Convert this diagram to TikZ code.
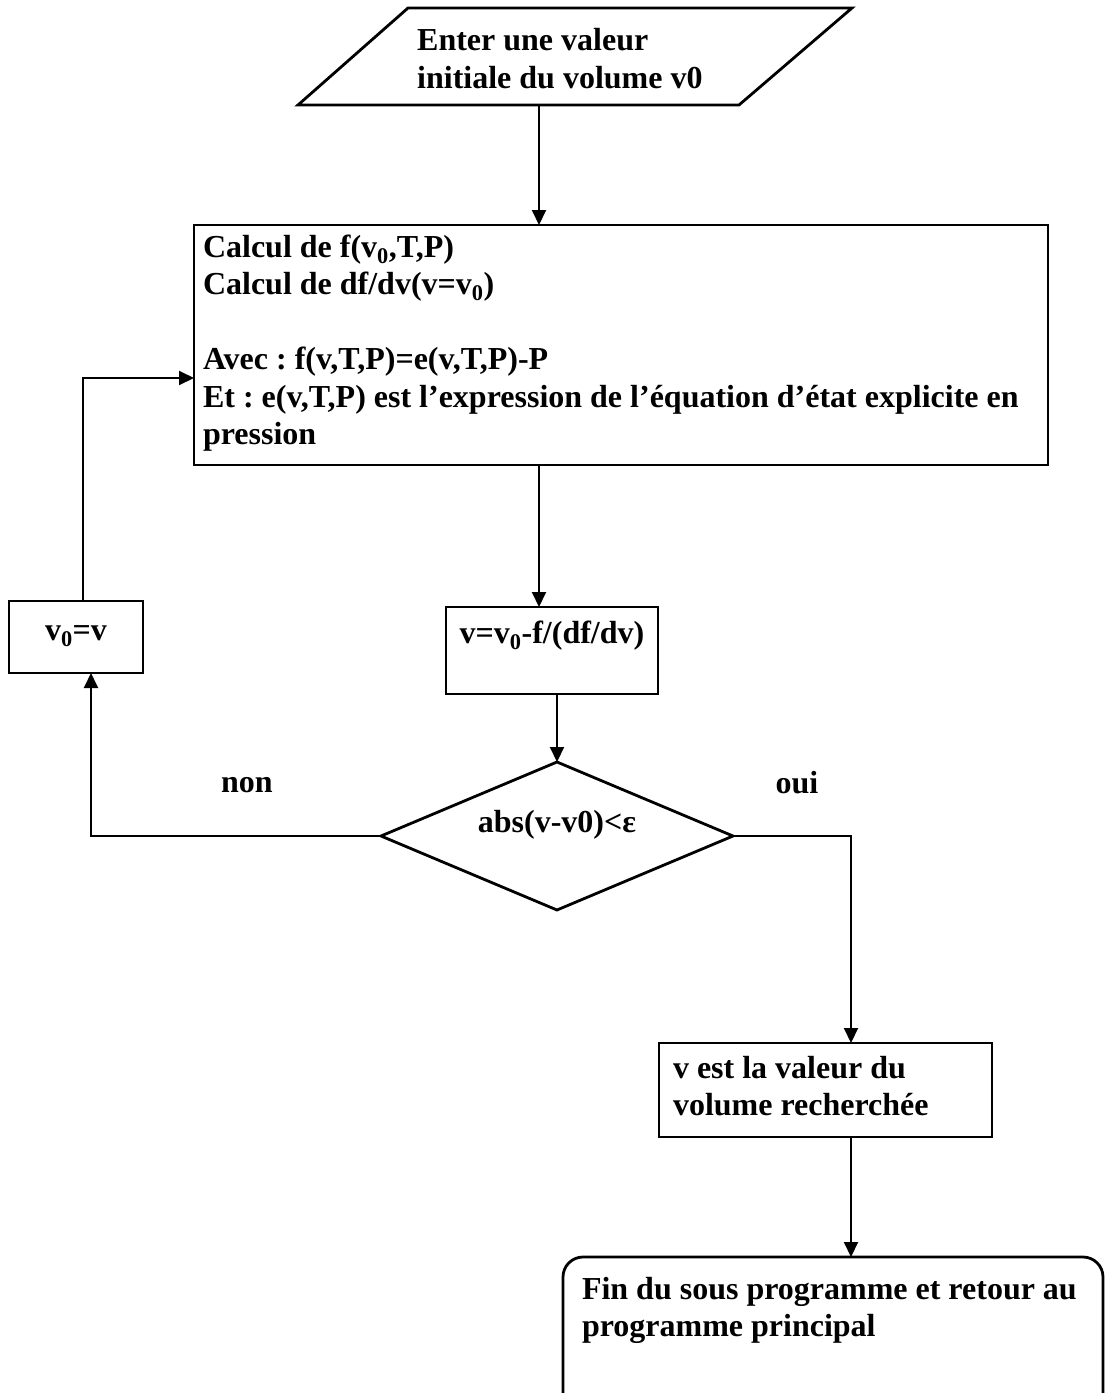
\documentclass[tikz,border=0pt]{standalone}
\usepackage{fontspec}
\setmainfont{Liberation Serif}
\usetikzlibrary{arrows.meta}
\usetikzlibrary{shapes.geometric}
\frenchspacing

\begin{document}
\begin{tikzpicture}[x=1pt,y=-1pt,
  box/.style={draw,rectangle,line width=2.8pt,inner ysep=0pt,outer sep=0pt,font=\bfseries\fontsize{32}{37.5}\selectfont},
  lbl/.style={inner sep=0pt,font=\bfseries\fontsize{32}{37.5}\selectfont},
  flow/.style={line width=2pt,-{Triangle[length=\l, width=\w]}}]
\def\l{15pt}
\def\w{14pt}
\useasboundingbox (0,0) rectangle (1104,1393);
%\draw[help lines] (0,0) grid[step=100] (1104,1393);
\draw[line width=2.8pt] (298,105) -- (408,8) -- (852,8) -- (739,105) -- cycle;
\node[lbl, font=\bfseries\fontsize{32}{38}\selectfont, text width=330pt, align=flush left, anchor=base west] (input) at (417,50) {Enter une valeur\\initiale du volume v0};
\node[box, text width=836pt, inner xsep=9pt, align=flush left, text height=32pt, text depth=208pt, anchor=base west] (calc) at (194,257) {Calcul de f(v\textsubscript{0},T,P)\\Calcul de df/dv(v=v\textsubscript{0})\\[37.5pt]Avec : f(v,T,P)=e(v,T,P)-P\\\mbox{Et : e(v,T,P) est l’expression de l’équation d’état explicite en}\\pression};
\node[box, minimum width=134pt, text height=39pt, text depth=33pt, anchor=base] (upd) at (76,640) {v\textsubscript{0}=v};
\node[box, minimum width=212pt, text height=36pt, text depth=51pt, anchor=base] (newv) at (552,643) {v=v\textsubscript{0}-f/(df/dv)};
\node[draw, diamond, aspect=2.4, line width=2.8pt, outer sep=0pt, lbl, minimum width=352pt, minimum height=148pt, text height=24pt, text depth=32pt] (test) at (557,836) {abs(v-v0)<ε};
\node[box, text width=305pt, inner xsep=14pt, align=flush left, text height=35pt, text depth=59pt, anchor=base west] (res) at (659,1078) {v est la valeur du\\volume recherchée};
\node[box, rounded corners=20pt, text width=502pt, inner xsep=19pt, align=flush left, text height=42pt, text depth=121pt, anchor=base west] (fin) at (563,1299) {\mbox{Fin du sous programme et retour au}\\programme principal};
\node[lbl, anchor=base] (non) at (247,792) {non};
\node[lbl, anchor=base] (oui) at (797,793) {oui};
\coordinate (inb) at (539,105);
\coordinate (nonc) at (91,836);
\coordinate (backc) at (83,378);
\coordinate (ouic) at (851,836);
\draw[flow] (inb) -- (inb |- calc.north);
\draw[flow] (calc.south -| inb) -- (newv.north -| inb);
\draw[flow] (newv.south -| test.north) -- (test.north);
\draw[flow] (test.west) -- (nonc) -- (nonc |- upd.south);
\draw[flow] (upd.north -| backc) -- (backc) -- (backc -| calc.west);
\draw[flow] (test.east) -- (ouic) -- (ouic |- res.north);
\draw[flow] (res.south -| ouic) -- (fin.north -| ouic);
\end{tikzpicture}
\end{document}
